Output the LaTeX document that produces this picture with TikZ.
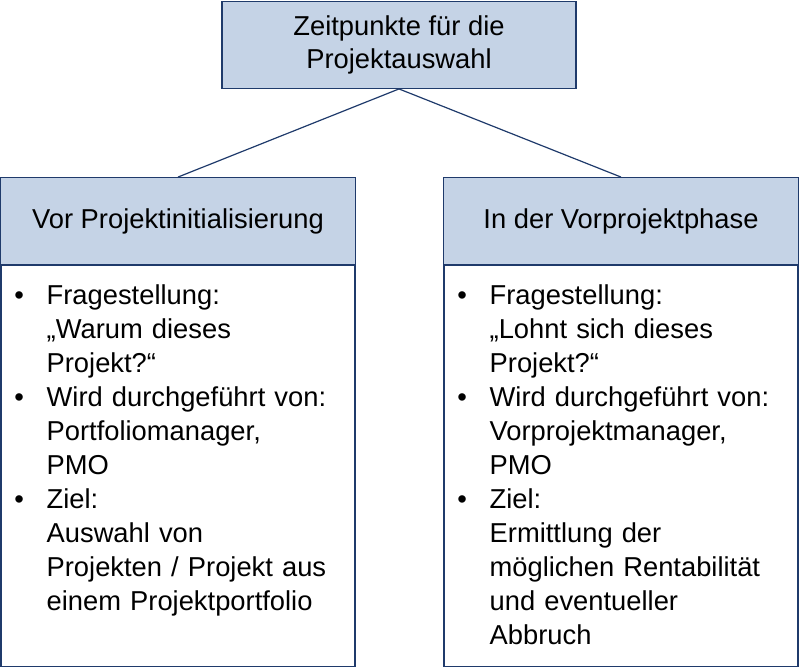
\documentclass[tikz,border=0pt]{standalone}
\usepackage{fontspec}
\setmainfont{Liberation Sans}
\usepackage{enumitem}
\usetikzlibrary{positioning}
\definecolor{boxblue}{HTML}{C5D3E6}
\definecolor{boxline}{HTML}{1F3A6B}
\newcommand{\zlist}[1]{\begin{itemize}[leftmargin=34.5pt,labelsep=17pt,itemsep=0pt,topsep=0pt,parsep=0pt,partopsep=0pt]#1\end{itemize}}
\begin{document}
\begin{tikzpicture}[x=0.75pt,y=-0.75pt,
    head_style/.style={draw=boxline,line width=0.9pt,fill=boxblue,minimum height=65pt,align=center,font=\fontsize{20.5}{25}\selectfont,inner sep=0pt},
    body_style/.style={draw=boxline,line width=0.9pt,fill=white,anchor=north,minimum height=300.75pt,minimum width=265.5pt,inner sep=0pt},
    text_style/.style={anchor=north west,text width=255pt,inner sep=0pt,font=\fontsize{20.5}{25.5}\selectfont},
    edge_style/.style={draw=boxline,line width=0.9pt}]
  \useasboundingbox (0,0) rectangle (800,667);
  \node[head_style,minimum width=265.5pt] (top) at (399,45) {Zeitpunkte für die\\Projektauswahl};
  \node[head_style,minimum width=266.25pt] (lhead) at (178,221) {Vor Projektinitialisierung};
  \node[head_style,minimum width=266.25pt] (rhead) at (621,221) {In der Vorprojektphase};
  \node[body_style] (lbody) at (lhead.south) {};
  \node[body_style] (rbody) at (rhead.south) {};
  \draw[edge_style] (top.south) -- (lhead.north);
  \draw[edge_style] (top.south) -- (rhead.north);
  \node[text_style] (ltext) at ([yshift=-4pt]lbody.north west) {\zlist{
    \item Fragestellung:\\„Warum dieses\\Projekt?“
    \item Wird durchgeführt von:\\Portfoliomanager,\\PMO
    \item Ziel:\\Auswahl von\\Projekten / Projekt aus\\einem Projektportfolio}};
  \node[text_style] (rtext) at ([yshift=-4pt]rbody.north west) {\zlist{
    \item Fragestellung:\\„Lohnt sich dieses\\Projekt?“
    \item Wird durchgeführt von:\\Vorprojektmanager,\\PMO
    \item Ziel:\\Ermittlung der\\möglichen Rentabilität\\und eventueller\\Abbruch}};
\end{tikzpicture}
\end{document}
